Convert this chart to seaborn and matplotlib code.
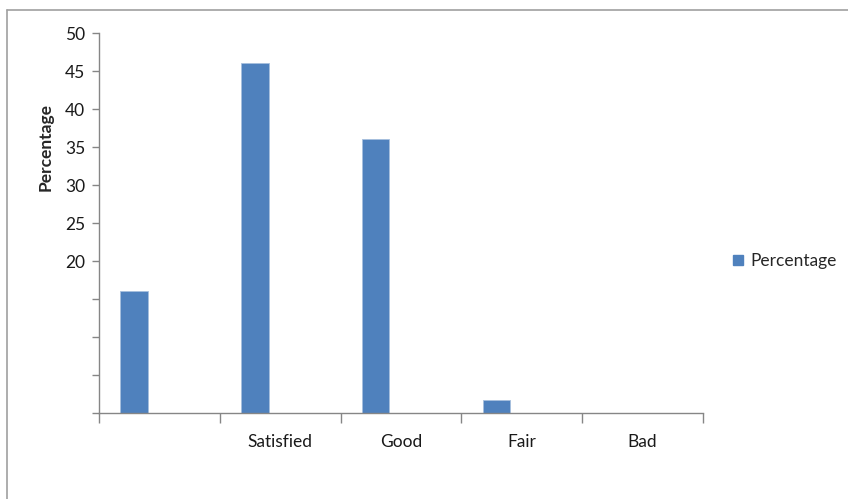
import matplotlib
matplotlib.use("Agg")
import matplotlib.pyplot as plt
import matplotlib.lines as mlines
import seaborn as sns
import pandas as pd
import numpy as np

categories = ["", "Satisfied", "Good", "Fair", "Bad"]
percentage = [16, 46, 36, 1.7, 0]
series_name = "Percentage"
y_ticks = [0, 5, 10, 15, 20, 25, 30, 35, 40, 45, 50]
y_tick_labels = ["", "", "", "", "20", "25", "30", "35", "40", "45", "50"]

df = pd.DataFrame({"category": categories, "value": percentage, "series": series_name})

sns.set_theme(style="white")
plt.rcParams["font.family"] = ["Lato", "DejaVu Sans"]

fs = 12.5
fig = plt.figure(figsize=(8.48, 4.99), dpi=100)
ax = fig.add_axes([99 / 848, 1 - 413 / 499, (703 - 99) / 848, (413 - 33) / 499])

bar_color = "#4F81BD"
sns.barplot(data=df, x="category", y="value", hue="series",
            hue_order=[series_name, "_blank"], order=categories,
            palette={series_name: bar_color, "_blank": "white"}, saturation=1,
            width=0.84, gap=0.46, dodge=True, errorbar=None,
            edgecolor="#A7BFDE", linewidth=0.6, ax=ax, legend=False)

axis_gray = "#868686"
ax.set_ylim(0, 50)
ax.set_xlim(-0.5, len(categories) - 0.5)
ax.set_yticks(y_ticks)
ax.set_yticklabels(y_tick_labels, fontsize=fs, color="#1a1a1a")
ax.set_xticks(range(len(categories)))
ax.set_xticklabels(categories, fontsize=fs, color="#1a1a1a")
ax.set_xticks(np.arange(-0.5, len(categories), 1.0), minor=True)
ax.tick_params(axis="x", which="major", length=0, pad=15, bottom=True)
ax.tick_params(axis="x", which="minor", length=7, color=axis_gray, width=1,
               direction="out", bottom=True)
ax.tick_params(axis="y", which="major", length=5, color=axis_gray, width=1,
               direction="out", pad=5, left=True)
ax.set_xlabel("")
ax.set_ylabel("Percentage", fontsize=fs, fontweight="bold")
ax.yaxis.set_label_coords(-0.075, 0.70)

for side in ["top", "right"]:
    ax.spines[side].set_visible(False)
for side in ["left", "bottom"]:
    ax.spines[side].set_color(axis_gray)
    ax.spines[side].set_linewidth(1)
ax.grid(False)

handle = mlines.Line2D([], [], marker="s", linestyle="none", markersize=7,
                       markerfacecolor=bar_color, markeredgecolor=bar_color)
fig.legend([handle], [series_name], loc="center left",
           bbox_to_anchor=(726 / 848, 1 - 261 / 499), frameon=False,
           fontsize=fs, handletextpad=0.0, handlelength=1.4, borderpad=0, borderaxespad=0)

# outer chart frame (top and left edges visible)
fig.add_artist(mlines.Line2D([7 / 848, 1], [1 - 9.5 / 499, 1 - 9.5 / 499],
                             transform=fig.transFigure, color="#A0A0A0", linewidth=1.2))
fig.add_artist(mlines.Line2D([7 / 848, 7 / 848], [0, 1 - 9.5 / 499],
                             transform=fig.transFigure, color="#A0A0A0", linewidth=1.2))

fig.savefig("out.png", dpi=100)
